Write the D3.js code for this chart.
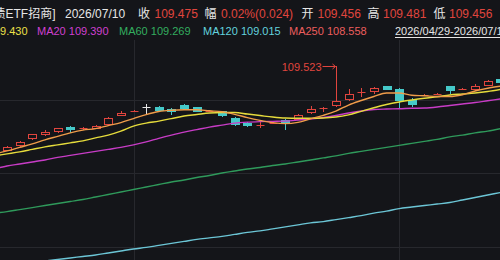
<!DOCTYPE html>
<html><head><meta charset="utf-8">
<script src="https://cdn.jsdelivr.net/npm/d3@7"></script>
<style>html,body{margin:0;padding:0;background:#141519;overflow:hidden}</style>
</head><body><svg id="c" width="500" height="260"></svg>
<script>
// ---- data (index 0 is a bar just left of the visible area) ----
const open  = [109.165,109.183,109.202,109.230,109.248,109.258,109.280,109.270,109.272,109.288,109.324,109.338,109.359,109.360,109.352,109.368,109.358,109.340,109.342,109.316,109.296,109.284,109.292,109.308,109.306,109.336,109.353,109.363,109.388,109.415,109.417,109.440,109.430,109.388,109.404,109.408,109.440,109.427,109.424,109.443,109.468];
const close = [109.178,109.200,109.220,109.250,109.260,109.274,109.266,109.276,109.284,109.316,109.336,109.344,109.359,109.344,109.338,109.350,109.340,109.344,109.322,109.288,109.282,109.288,109.296,109.290,109.328,109.352,109.356,109.382,109.412,109.418,109.432,109.426,109.382,109.368,109.407,109.412,109.420,109.431,109.440,109.462,109.452];
const high  = [109.180,109.202,109.222,109.252,109.266,109.276,109.282,109.278,109.286,109.318,109.342,109.345,109.370,109.362,109.353,109.370,109.359,109.345,109.343,109.318,109.297,109.298,109.298,109.310,109.330,109.362,109.357,109.523,109.428,109.432,109.438,109.442,109.432,109.396,109.409,109.413,109.441,109.432,109.448,109.464,109.470];
const low   = [109.160,109.181,109.200,109.228,109.244,109.256,109.254,109.268,109.270,109.287,109.323,109.337,109.328,109.340,109.326,109.348,109.339,109.339,109.320,109.282,109.280,109.274,109.290,109.268,109.305,109.330,109.338,109.358,109.382,109.400,109.412,109.424,109.356,109.358,109.402,109.407,109.412,109.426,109.423,109.442,109.450];
const ma5   = [109.171,109.183,109.197,109.211,109.227,109.241,109.255,109.266,109.272,109.284,109.296,109.312,109.328,109.340,109.345,109.347,109.347,109.343,109.339,109.329,109.316,109.305,109.296,109.292,109.297,109.311,109.325,109.342,109.366,109.384,109.400,109.414,109.414,109.405,109.403,109.400,109.400,109.407,109.422,109.433,109.441];
const ma10  = [109.163,109.171,109.179,109.189,109.199,109.207,109.215,109.223,109.235,109.246,109.262,109.282,109.294,109.302,109.312,109.322,109.328,109.334,109.336,109.336,109.330,109.324,109.318,109.314,109.313,109.313,109.314,109.318,109.327,109.341,109.355,109.368,109.378,109.386,109.393,109.399,109.406,109.410,109.414,109.420,109.428];
const ma20  = [109.111,109.123,109.131,109.139,109.147,109.157,109.165,109.173,109.181,109.189,109.197,109.207,109.219,109.233,109.246,109.258,109.268,109.278,109.286,109.294,109.298,109.300,109.301,109.302,109.306,109.311,109.316,109.324,109.334,109.342,109.348,109.350,109.351,109.353,109.354,109.358,109.364,109.370,109.376,109.383,109.390];
const ma60  = [108.935,108.941,108.949,108.957,108.965,108.973,108.981,108.989,108.999,109.009,109.019,109.029,109.039,109.049,109.059,109.067,109.077,109.085,109.095,109.103,109.111,109.117,109.125,109.131,109.139,109.147,109.155,109.163,109.173,109.181,109.189,109.197,109.205,109.213,109.221,109.229,109.239,109.246,109.255,109.262,109.272];
const ma120 = [108.720,108.726,108.732,108.738,108.744,108.750,108.756,108.762,108.768,108.776,108.784,108.792,108.798,108.806,108.814,108.822,108.830,108.836,108.842,108.850,108.858,108.864,108.872,108.880,108.888,108.896,108.901,108.909,108.917,108.925,108.935,108.943,108.953,108.959,108.965,108.971,108.977,108.987,108.997,109.007,109.017];
const gridValues = [109.386, 109.095, 108.800];
const gridBars = [11, 32];
const maNames = ["MA10","MA20","MA60","MA120","MA250"];
const maLast  = ["109.430","109.390","109.269","109.015","108.558"];
const title = "债ETF招商]";
const dateLabel = "2026/07/10";
const quoteLabels = ["收","幅","开","高","低"];
const quoteValues = ["109.475","0.02%(0.024)","109.456","109.481","109.456"];
const rangeLabel = "2026/04/29-2026/07/10";

// ---- drawing ----
const BG = "#141519", RED = "#e0453e", CYAN = "#45c9c9", WHITE = "#e6e6e6";
const svg = d3.select("#c");
svg.append("rect").attr("width", 500).attr("height", 260).attr("fill", BG);

const idx = d3.range(open.length);
const x = d3.scalePoint().domain(idx).range([-5.65, 500.35]);
const y = d3.scaleLinear().domain([108.7, 109.7]).range([272.0, 21.3]);
const px = i => Math.round(x(i));

svg.append("defs").append("clipPath").attr("id", "plot")
  .append("rect").attr("x", 0).attr("y", 40).attr("width", 500).attr("height", 220);

const grid = svg.append("g").attr("stroke", "#27282d").attr("stroke-width", 1);
grid.selectAll("line.h").data(gridValues).join("line").attr("class", "h")
  .attr("x1", 0).attr("x2", 500)
  .attr("y1", d => Math.round(y(d)) + 0.5).attr("y2", d => Math.round(y(d)) + 0.5);
grid.selectAll("line.v").data(gridBars).join("line").attr("class", "v")
  .attr("x1", d => px(d) + 0.5).attr("x2", d => px(d) + 0.5)
  .attr("y1", 40).attr("y2", 260);

const plot = svg.append("g").attr("clip-path", "url(#plot)");

// candles
const cg = plot.append("g");
idx.forEach(i => {
  const o = open[i], c = close[i], h = high[i], l = low[i];
  const col = c > o ? RED : (c < o ? CYAN : WHITE);
  const cx = px(i);
  cg.append("line").attr("x1", cx + 0.5).attr("x2", cx + 0.5)
    .attr("y1", Math.round(y(h))).attr("y2", Math.round(y(l)))
    .attr("stroke", col).attr("stroke-width", 1);
  const t = Math.round(y(Math.max(o, c))), b = Math.round(y(Math.min(o, c)));
  if (b - t < 2) {
    cg.append("line").attr("x1", cx - 3.5).attr("x2", cx + 4.5)
      .attr("y1", t + 0.5).attr("y2", t + 0.5).attr("stroke", col);
  } else if (c > o) {
    cg.append("rect").attr("x", cx - 3.5).attr("y", t + 0.5)
      .attr("width", 8).attr("height", b - t - 1)
      .attr("fill", BG).attr("stroke", col).attr("stroke-width", 1);
  } else {
    cg.append("rect").attr("x", cx - 4).attr("y", t)
      .attr("width", 9).attr("height", b - t).attr("fill", col);
  }
});

// moving averages
const series = [
  {v: ma120, c: "#6cc6d6"},
  {v: ma60,  c: "#2f9a5b"},
  {v: ma20,  c: "#c83cc6"},
  {v: ma10,  c: "#e6dc3c"},
  {v: ma5,   c: "#ef9c4a"}
];
const line = d3.line().x((d, i) => x(i)).y(d => y(d)).curve(d3.curveMonotoneX);
plot.selectAll("path.ma").data(series).join("path").attr("class", "ma")
  .attr("d", d => line(d.v)).attr("fill", "none")
  .attr("stroke", d => d.c).attr("stroke-width", 1.4);

// highest-price marker
const mi = d3.maxIndex(high);
const mx = px(mi) + 0.5, my = Math.round(y(high[mi])) + 0.5;
plot.append("path")
  .attr("d", `M${mx - 14},${my}H${mx - 1}`)
  .attr("stroke", RED).attr("fill", "none");
plot.append("path")
  .attr("d", `M${mx - 4},${my - 2.5}L${mx - 1},${my}L${mx - 4},${my + 2.5}`)
  .attr("stroke", RED).attr("fill", "none");
plot.append("text").attr("x", mx - 15).attr("y", my + 4)
  .attr("text-anchor", "end").attr("fill", RED)
  .attr("font-family", "Liberation Sans, Arial, sans-serif").attr("font-size", 11)
  .text(high[mi].toFixed(3));

// header
const FONT = "Liberation Sans, 'Noto Sans CJK SC', sans-serif";
const h1 = svg.append("g").attr("font-family", FONT).attr("font-size", 12);
const row1 = [
  {t: title, x: -6.5, c: WHITE},
  {t: dateLabel, x: 65, c: WHITE},
  {t: quoteLabels[0], x: 138, c: WHITE}, {t: quoteValues[0], x: 154.5, c: RED},
  {t: quoteLabels[1], x: 204.5, c: WHITE}, {t: quoteValues[1], x: 221, c: RED},
  {t: quoteLabels[2], x: 301.5, c: WHITE}, {t: quoteValues[2], x: 317.5, c: RED},
  {t: quoteLabels[3], x: 367.5, c: WHITE}, {t: quoteValues[3], x: 383, c: RED},
  {t: quoteLabels[4], x: 433.5, c: WHITE}, {t: quoteValues[4], x: 449, c: RED}
];
h1.selectAll("text").data(row1).join("text")
  .attr("x", d => d.x).attr("y", 18).attr("fill", d => d.c).text(d => d.t);

const maColors = ["#ece048", "#d040d0", "#33ad5f", "#62d2de", "#ec5e5e"];
const maX = [-44, 37, 119, 203, 289];
const h2 = svg.append("g").attr("font-family", FONT).attr("font-size", 11);
h2.selectAll("text").data(maNames).join("text")
  .attr("x", (d, i) => maX[i]).attr("y", 35).attr("fill", (d, i) => maColors[i])
  .text((d, i) => d + " " + maLast[i]);
h2.append("text").attr("x", 395).attr("y", 35).attr("fill", WHITE).text(rangeLabel);
h2.append("line").attr("x1", 395).attr("x2", 500).attr("y1", 37.5).attr("y2", 37.5)
  .attr("stroke", WHITE).attr("stroke-width", 1);
</script>
</body></html>
